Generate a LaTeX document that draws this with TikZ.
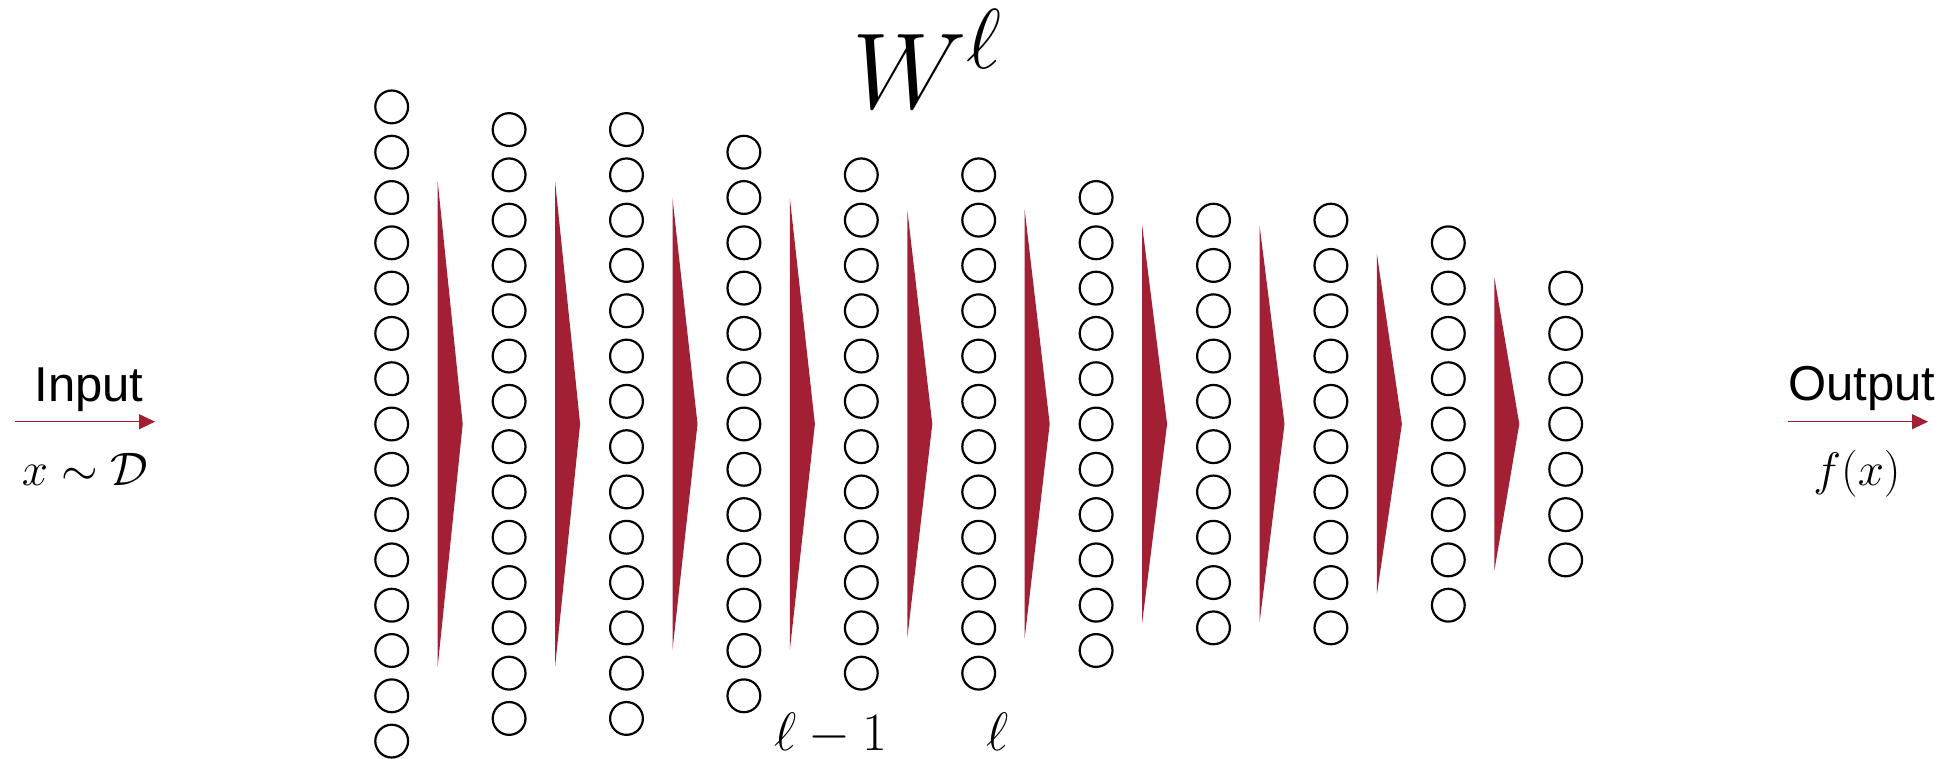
\RequirePackage{fix-cm}
\documentclass[tikz,border=0pt]{standalone}
\usepackage{fontspec}
\setsansfont{Liberation Sans}
\usetikzlibrary{arrows.meta}
\definecolor{mitred}{RGB}{163,31,52}
\begin{document}
\begin{tikzpicture}[x=1pt,y=-1pt,
  neuron/.style={circle,draw=black,line width=2.2pt,minimum size=32.8pt,inner sep=0pt},
  flow/.style={draw=mitred,line width=1.3pt,-{Triangle[length=16pt,width=15pt]}},
  wedge/.style={fill=mitred},
  labeltext/.style={font=\sffamily\fontsize{49}{49}\selectfont,anchor=base,inner sep=0pt},
  mathlabel/.style={font=\fontsize{47}{47}\selectfont,anchor=base,inner sep=0pt}]
\useasboundingbox (0,0) rectangle (1949,758);
% neurons
\foreach \i/\n in {1/15,2/14,3/14,4/13,5/12,6/12,7/11,8/10,9/10,10/9,11/7}{
  \pgfmathsetmacro\cx{391.7+(\i-1)*117.4}
  \foreach \j in {1,...,\n}{
    \node[neuron] (n\i-\j) at (\cx,{424+(\j-(\n+1)/2)*45.3}) {};
  }
}
% weight wedges
\foreach \i/\h in {1/242.5,2/242.5,3/225.8,4/225.5,5/214,6/214,7/199,8/199,9/170,10/147}{
  \pgfmathsetmacro\tx{391.7+(\i-1)*117.4+46}
  \fill[wedge] (\tx,424-\h) -- (\tx,424+\h) -- (\tx+25,424) -- cycle;
}
% input / output
\node[labeltext] (input) at (89,401.7) {Input};
\coordinate (in0) at (15,421.7);
\coordinate (in1) at (155,421.7);
\draw[flow] (in0) -- (in1);
\node[mathlabel] (dist) at (85,485) {$x\sim\mathcal{D}$};
\node[labeltext] (output) at (1862,400) {Output};
\coordinate (out0) at (1788,421.7);
\coordinate (out1) at (1928,421.7);
\draw[flow] (out0) -- (out1);
\node[mathlabel] (fx) at (1857,485) {$f(x)$};
% layer labels
\node[font=\fontsize{108}{108}\selectfont,anchor=base,inner sep=0pt] (W) at (927,108) {$W^{\hbox{\fontsize{85}{85}\selectfont$\ell$}}$};
\node[font=\fontsize{54}{54}\selectfont,anchor=base,inner sep=0pt] (lm1) at (831,750) {$\ell-1$};
\node[font=\fontsize{54}{54}\selectfont,anchor=base,inner sep=0pt] (l) at (998,750) {$\ell$};
\end{tikzpicture}
\end{document}
